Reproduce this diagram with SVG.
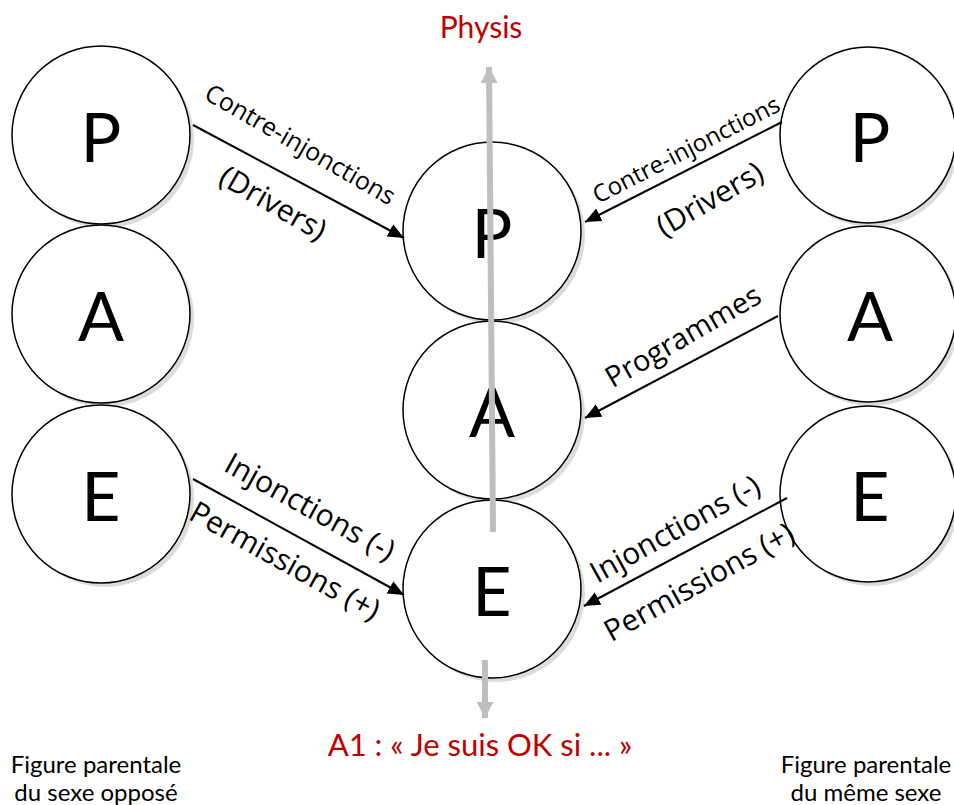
<svg xmlns="http://www.w3.org/2000/svg" width="954" height="805" viewBox="0 0 954 805">
<defs>
<style>
.shadow{fill:#dcdcdc;stroke:none}
.node{fill:#fff;stroke:#000;stroke-width:1.5}
.letter{font-family:Lato,"Open Sans",sans-serif;font-size:68px;fill:#000;text-anchor:middle}
.lbl{font-family:"Open Sans","DejaVu Sans",sans-serif;fill:#000;text-anchor:middle}
.red{font-family:Lato,"Open Sans",sans-serif;fill:#C00000;text-anchor:middle}
.cap{font-family:Lato,"Open Sans",sans-serif;font-size:24px;fill:#000;text-anchor:middle}
.conn{stroke:#000;stroke-width:2;fill:none;marker-end:url(#ah)}
.gray{stroke:#bfbfbf;stroke-width:6;fill:none;marker-end:url(#gh)}
</style>
<marker id="ah" markerUnits="userSpaceOnUse" markerWidth="18" markerHeight="16" refX="16" refY="7" orient="auto">
<path d="M0,0 L16,7 L0,14 Z" fill="#000"/>
</marker>
<marker id="gh" markerUnits="userSpaceOnUse" markerWidth="18" markerHeight="18" refX="16" refY="8.5" orient="auto">
<path d="M0,0 L16,8.5 L0,17 Z" fill="#bfbfbf"/>
</marker>
</defs>
<rect width="954" height="805" fill="#fff"/>

<g id="left-P"><circle class="shadow" cx="105" cy="139" r="89"/><circle class="node" cx="101" cy="135" r="89"/><text class="letter" x="101" y="162">P</text></g>
<g id="left-A"><circle class="shadow" cx="105" cy="318" r="89"/><circle class="node" cx="101" cy="314" r="89"/><text class="letter" x="101" y="341">A</text></g>
<g id="left-E"><circle class="shadow" cx="105" cy="498" r="89"/><circle class="node" cx="101" cy="494" r="89"/><text class="letter" x="101" y="521">E</text></g>

<g id="mid-P"><circle class="shadow" cx="496" cy="235" r="89"/><circle class="node" cx="492" cy="231" r="89"/><text class="letter" x="492" y="258">P</text></g>
<g id="mid-A"><circle class="shadow" cx="496" cy="414" r="89"/><circle class="node" cx="492" cy="410" r="89"/><text class="letter" x="492" y="437">A</text></g>
<g id="mid-E"><circle class="shadow" cx="496" cy="593" r="89"/><circle class="node" cx="492" cy="589" r="89"/><text class="letter" x="492" y="616">E</text></g>

<g id="right-P"><circle class="shadow" cx="872" cy="139" r="88"/><circle class="node" cx="868" cy="135" r="88"/><text class="letter" x="870" y="162">P</text></g>
<g id="right-A"><circle class="shadow" cx="872" cy="318" r="88"/><circle class="node" cx="868" cy="314" r="88"/><text class="letter" x="870" y="341">A</text></g>
<g id="right-E"><circle class="shadow" cx="872" cy="498" r="88"/><circle class="node" cx="868" cy="494" r="88"/><text class="letter" x="870" y="521">E</text></g>

<g id="connectors">
<line class="conn" x1="193" y1="125" x2="404" y2="238"/>
<line class="conn" x1="782" y1="122" x2="585" y2="222"/>
<line class="conn" x1="778" y1="316" x2="585" y2="418"/>
<line class="conn" x1="193" y1="479" x2="404" y2="595"/>
<line class="conn" x1="787" y1="498" x2="584" y2="606"/>
<line class="gray" x1="493" y1="532" x2="489" y2="67"/>
<line class="gray" x1="485" y1="660" x2="485" y2="718"/>
</g>

<g id="labels">
<text class="lbl" font-size="25" transform="translate(296,152) rotate(30)">Contre-injonctions</text>
<text class="lbl" font-size="30" transform="translate(268,212) rotate(30)">(Drivers)</text>
<text class="lbl" font-size="24" transform="translate(690,157) rotate(-27)">Contre-injonctions</text>
<text class="lbl" font-size="30" transform="translate(715,208) rotate(-30)">(Drivers)</text>
<text class="lbl" font-size="29" transform="translate(688,345) rotate(-30)">Programmes</text>
<text class="lbl" font-size="30" transform="translate(305,516) rotate(29)">Injonctions (-)</text>
<text class="lbl" font-size="30" transform="translate(280,570) rotate(29)">Permissions (+)</text>
<text class="lbl" font-size="30" transform="translate(680,538) rotate(-29)">Injonctions (-)</text>
<text class="lbl" font-size="30" transform="translate(704,591) rotate(-29)">Permissions (+)</text>
</g>

<text class="red" font-size="30" x="481" y="38">Physis</text>
<text class="red" font-size="31" x="480" y="756">A1 : « Je suis OK si ... »</text>
<text class="cap" x="96" y="773">Figure parentale</text>
<text class="cap" x="96" y="801">du sexe opposé</text>
<text class="cap" x="866" y="773">Figure parentale</text>
<text class="cap" x="866" y="801">du même sexe</text>
</svg>
